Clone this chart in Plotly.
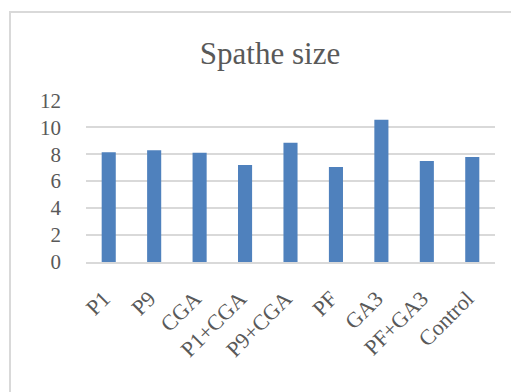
import plotly.graph_objects as go

# Spathe size per treatment
treatments = ["P1", "P9", "CGA", "P1+CGA", "P9+CGA", "PF", "GA3", "PF+GA3", "Control"]
spathe_size = [8.15, 8.3, 8.1, 7.2, 8.85, 7.05, 10.55, 7.5, 7.8]
y_ticks = [0, 2, 4, 6, 8, 10, 12]

W, H = 511, 392
ML, MR, MT, MB = 86, 16, 100, 130
plot_w = W - ML - MR
plot_h = H - MT - MB

GREY_TEXT = "#595959"
GRID = "#d9d9d9"
FONT = "Liberation Serif, Times New Roman, serif"

fig = go.Figure(
    go.Bar(
        x=treatments,
        y=spathe_size,
        marker=dict(color="#4f81bd", line=dict(width=0)),
    )
)


def px_x(p):
    return (p - ML) / plot_w


def px_y(p):
    return (H - MB - p) / plot_h


# Chart-area frame (left and top edges visible)
fig.add_shape(
    type="rect", xref="paper", yref="paper",
    x0=px_x(10), x1=px_x(W + 40), y0=px_y(H + 40), y1=px_y(12),
    line=dict(color=GRID, width=2), fillcolor="rgba(0,0,0,0)", layer="below",
)

fig.update_layout(
    width=W,
    height=H,
    margin=dict(l=ML, r=MR, t=MT, b=MB, pad=0),
    paper_bgcolor="white",
    plot_bgcolor="white",
    bargap=0.69,
    showlegend=False,
    font=dict(family=FONT, color=GREY_TEXT, size=21),
    title=dict(
        text="Spathe size",
        font=dict(family=FONT, size=31, color=GREY_TEXT),
        x=px_x(270), xref="paper", xanchor="center",
        y=1 - 53 / H, yref="container", yanchor="middle",
    ),
    xaxis=dict(
        tickangle=-45,
        showgrid=False,
        showline=True,
        linecolor=GRID,
        linewidth=2,
        ticks="",
        ticklabelstandoff=13,
        ticklabelshift=-5,
        tickfont=dict(family=FONT, size=22, color=GREY_TEXT),
    ),
    yaxis=dict(
        range=[0, 12.02],
        tickvals=y_ticks,
        showgrid=True,
        gridcolor=GRID,
        gridwidth=2,
        zeroline=False,
        showline=False,
        ticks="",
        ticklabelstandoff=24,
        tickfont=dict(family=FONT, size=21, color=GREY_TEXT),
    ),
)

fig.write_html("out.html")
